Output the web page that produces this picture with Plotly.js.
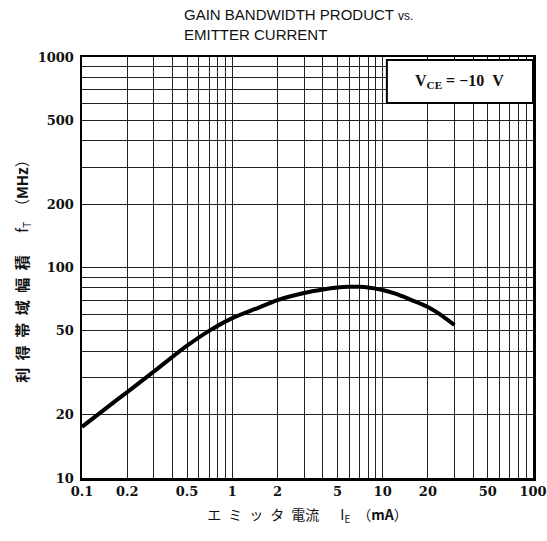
<!DOCTYPE html>
<html>
<head>
<meta charset="utf-8">
<script src="https://cdn.plot.ly/plotly-3.0.1.min.js"></script>
<style>html,body{margin:0;padding:0;background:#fff;}#chart{width:547px;height:541px;}</style>
</head>
<body>
<div id="chart"></div>
<script>
// Emitter current I_E (mA)
const currentMA = [0.1, 0.15, 0.2, 0.3, 0.5, 0.7, 1, 1.5, 2, 3, 4, 5, 6, 7, 8, 10, 12, 15, 20, 25, 30];
// Gain bandwidth product f_T (MHz)
const ftMHz = [17.5, 21.9, 25.6, 32, 42.5, 50, 57.5, 64.5, 70, 75.7, 78.6, 80.3, 81, 81, 80.4, 78.2, 75.3, 70.8, 64.9, 58.8, 53.3];

const xMajor = [0.1, 0.2, 0.5, 1, 2, 5, 10, 20, 50, 100];
const xMajorText = ['0.1', '0.2', '0.5', '1', '2', '5', '10', '20', '50', '100'];
const yMajor = [10, 20, 50, 100, 200, 500, 1000];
const yMajorText = ['10', '20', '50', '100', '200', '500', '1000'];

function logGrid(startExp, endExp) {
  const v = [];
  for (let e = startExp; e < endExp; e++) {
    for (let m = 1; m <= 9; m++) v.push(+(m * Math.pow(10, e)).toPrecision(3));
  }
  v.push(Math.pow(10, endExp));
  return v;
}
const xGrid = logGrid(-1, 2);
const yGrid = logGrid(1, 3);

const serif = '"Liberation Serif", "DejaVu Serif", serif';
const tickSerif = '"DejaVu Serif", serif';
const sp = '\u00A0';
const en = '\u2002';

const data = [{
  x: currentMA,
  y: ftMHz,
  type: 'scatter',
  mode: 'lines',
  line: {color: '#000', width: 4, shape: 'spline', smoothing: 1},
  hoverinfo: 'skip'
}];

const gridStyle = {showgrid: true, gridcolor: '#222', gridwidth: 1};

const layout = {
  width: 547,
  height: 541,
  margin: {l: 82, r: 14, t: 57, b: 63},
  paper_bgcolor: '#fff',
  plot_bgcolor: '#fff',
  showlegend: false,
  font: {family: serif, size: 15, color: '#111'},
  xaxis: Object.assign({
    type: 'log',
    range: [-1, 2],
    tickmode: 'array',
    tickvals: xMajor,
    ticktext: xMajorText,
    tickfont: {family: tickSerif, size: 13, color: '#111', weight: 'bold'},
    tickangle: 0,
    ticks: '',
    minor: Object.assign({tickmode: 'array', tickvals: xGrid, ticks: ''}, gridStyle),
    showline: true,
    linecolor: '#000',
    linewidth: 2.5,
    mirror: true,
    zeroline: false,
    title: {
      text: ['エ', 'ミ', 'ッ', 'タ', '電流'].join(en) + en + en + en + 'I<sub>E</sub>' + en + '（<b>mA</b>）',
      font: {family: '"Noto Sans CJK JP"', size: 14, color: '#111'},
      standoff: 12
    }
  }, gridStyle),
  yaxis: Object.assign({
    type: 'log',
    range: [1, 3],
    tickmode: 'array',
    tickvals: yMajor,
    ticktext: yMajorText,
    tickfont: {family: tickSerif, size: 13, color: '#111', weight: 'bold'},
    ticks: '',
    ticklabelstandoff: 3,
    minor: Object.assign({tickmode: 'array', tickvals: yGrid, ticks: ''}, gridStyle),
    showline: true,
    linecolor: '#000',
    linewidth: 2.5,
    mirror: true,
    zeroline: false,
    title: {
      text: '<b>' + ['利', '得', '帯', '域', '幅', '積'].join(en) + '</b>' + en + en + en + 'f<sub>T</sub>' + en + '（<b>MHz</b>）',
      font: {family: '"Noto Sans CJK JP"', size: 15, color: '#111'},
      standoff: 6
    }
  }, gridStyle),
  shapes: [{
    type: 'rect', xref: 'paper', yref: 'paper',
    x0: 0.676, x1: 1, y0: 0.891, y1: 0.993,
    fillcolor: '#fff', line: {color: '#000', width: 2}, layer: 'above'
  }],
  annotations: [{
    xref: 'paper', yref: 'paper', x: 0.838, y: 0.942,
    xanchor: 'center', yanchor: 'middle', showarrow: false,
    text: '<b>V<sub>CE</sub> = −10' + sp + sp + 'V</b>',
    font: {family: serif, size: 16, color: '#111'}
  }, {
    xref: 'paper', yref: 'paper', x: (182 - 82) / 451, y: 1.125,
    xanchor: 'left', yanchor: 'top', align: 'left', showarrow: false,
    text: 'GAIN BANDWIDTH PRODUCT <span style="font-size:12px">vs.</span><br>EMITTER CURRENT',
    font: {family: '"Liberation Sans", Arial, sans-serif', size: 15, color: '#111'}
  }]
};

Plotly.newPlot('chart', data, layout, {displayModeBar: false, staticPlot: true});
</script>
</body>
</html>
